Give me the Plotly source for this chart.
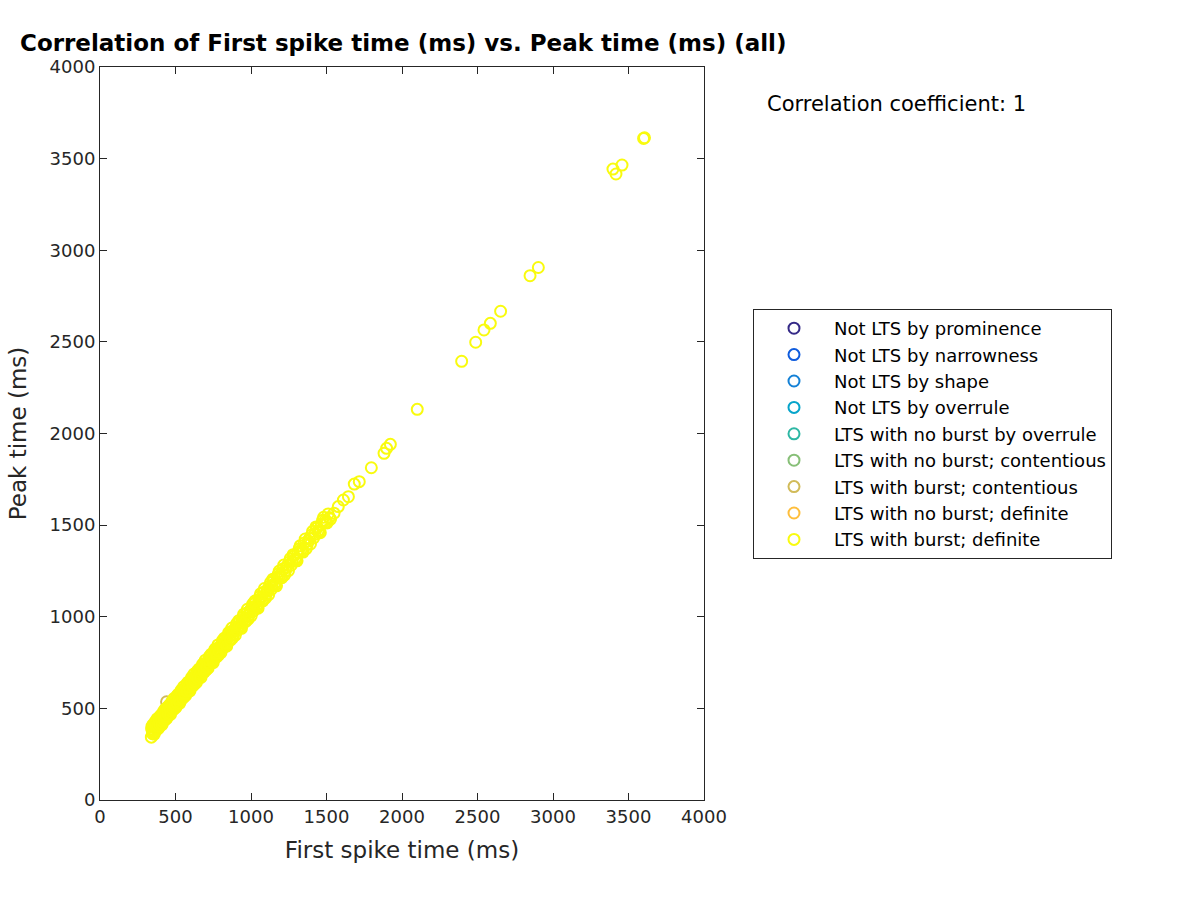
import plotly.graph_objects as go

# Data (ms)
categories = [
    "Not LTS by prominence",
    "Not LTS by narrowness",
    "Not LTS by shape",
    "Not LTS by overrule",
    "LTS with no burst by overrule",
    "LTS with no burst; contentious",
    "LTS with burst; contentious",
    "LTS with no burst; definite",
    "LTS with burst; definite",
]
colors = ["#352A87", "#0F5CDD", "#1481D6", "#06A4CA", "#2EB7A4",
          "#87BF77", "#D1BB59", "#FEBE3C", "#F9FB0E"]

# LTS with burst; contentious
burst_contentious_x = [441]
burst_contentious_y = [536]

# LTS with burst; definite -- dense band (part A)
band_a_x = [
    340, 344, 349, 353, 358, 362, 367, 371, 376, 381, 385, 390, 395, 400, 404, 409,
    414, 419, 424, 429, 434, 439, 444, 449, 455, 460, 465, 470, 476, 481, 487, 492,
    498, 503, 509, 515, 520, 526, 532, 538, 544, 550, 556, 562, 568, 574, 580, 587,
    593, 599, 606, 612, 619, 625, 632, 639, 645, 652, 659, 666, 673, 680, 687, 694,
    702, 709, 716, 724, 731, 739, 746, 754, 762, 769, 777, 785, 793, 801, 810, 818,
    826, 835, 843, 852, 860, 869, 878, 887, 896, 905, 914, 923, 933, 942, 952, 961,
    971, 981, 991, 1001, 1011, 1021, 1031, 1042, 1052, 1063, 1074, 1084, 1095, 1106,
    1117, 1129, 1140, 1151, 1163, 1175, 1187, 1199, 1211, 1223, 1235, 1248, 1260, 1273,
    1286, 1299, 1312, 1325, 1339, 1352, 1366, 1380, 1394, 1408, 1422, 1437, 1451, 1466,
    1481, 1496, 1511, 1527,
]
band_a_y = [
    343, 402, 377, 400, 370, 400, 429, 391, 426, 387, 418, 393, 453, 428, 451, 421,
    452, 481, 444, 479, 440, 472, 447, 507, 483, 507, 477, 508, 538, 501, 537, 498,
    531, 506, 567, 543, 567, 538, 570, 600, 564, 600, 562, 595, 571, 632, 608, 634,
    605, 637, 668, 632, 669, 631, 665, 642, 703, 680, 706, 678, 711, 742, 707, 744,
    708, 742, 719, 782, 759, 786, 758, 792, 824, 789, 827, 791, 826, 804, 868, 846,
    873, 847, 881, 914, 880, 919, 884, 920, 899, 963, 942, 970, 945, 980, 1014, 981,
    1021, 987, 1024, 1004, 1069, 1049, 1078, 1054, 1090, 1125, 1094, 1134, 1101, 1139,
    1120, 1187, 1168, 1198, 1175, 1213, 1249, 1219, 1261, 1229, 1268, 1251, 1318, 1301,
    1333, 1311, 1350, 1387, 1359, 1402, 1372, 1413, 1397, 1466, 1450, 1484, 1463, 1504,
    1543, 1516, 1561, 1533,
]
# dense band (part B)
band_b_x = [
    342, 347, 351, 356, 360, 365, 369, 374, 378, 383, 388, 392, 397, 402, 407, 411,
    416, 421, 426, 431, 436, 441, 447, 452, 457, 462, 467, 473, 478, 484, 489, 495,
    500, 506, 512, 517, 523, 529, 535, 541, 547, 553, 559, 565, 571, 577, 583, 590,
    596, 602, 609, 615, 622, 628, 635, 642, 649, 655, 662, 669, 676, 683, 690, 698,
    705, 712, 720, 727, 735, 742, 750, 758, 765, 773, 781, 789, 797, 805, 814, 822,
    830, 839, 847, 856, 864, 873, 882, 891, 900, 909, 918, 928, 937, 947, 956, 966,
    976, 986, 996, 1006, 1016, 1026, 1036, 1047, 1057, 1068, 1079, 1089, 1100, 1111,
    1123, 1134, 1145, 1157, 1169, 1181, 1193, 1205, 1217, 1229, 1241, 1254, 1266, 1279,
    1292, 1305, 1318, 1332, 1345, 1359, 1373, 1387, 1401, 1415, 1430, 1444, 1459, 1474,
    1489, 1504, 1519,
]
band_b_y = [
    387, 362, 411, 381, 360, 417, 404, 382, 443, 405, 428, 437, 412, 462, 432, 411,
    468, 456, 434, 496, 458, 481, 492, 467, 517, 487, 467, 525, 513, 492, 554, 517,
    540, 551, 527, 577, 548, 529, 587, 576, 555, 618, 581, 605, 616, 592, 643, 615,
    596, 654, 644, 623, 687, 650, 675, 687, 664, 715, 687, 669, 728, 718, 698, 763,
    727, 752, 765, 742, 795, 767, 750, 810, 800, 781, 846, 811, 837, 850, 829, 882,
    855, 839, 899, 891, 872, 938, 904, 931, 945, 924, 978, 953, 937, 999, 991, 974,
    1041, 1008, 1036, 1051, 1031, 1086, 1061, 1047, 1109, 1103, 1087, 1154, 1122, 1151,
    1168, 1149, 1205, 1182, 1169, 1233, 1228, 1213, 1282, 1251, 1281, 1299, 1281, 1339,
    1317, 1305, 1370, 1367, 1353, 1424, 1395, 1427, 1446, 1430, 1490, 1469, 1459, 1526,
    1524, 1512, 1541,
]
# sparse upper part
sparse_x = [1550, 1578, 1612, 1645, 1684, 1717, 1797, 1881, 1898, 1923, 2101, 2395,
            2488, 2543, 2585, 2653, 2848, 2903, 3397, 3417, 3457, 3600, 3606]
sparse_y = [1565, 1601, 1637, 1655, 1724, 1737, 1813, 1892, 1919, 1941, 2132, 2394,
            2498, 2565, 2601, 2667, 2861, 2906, 3443, 3416, 3465, 3610, 3614]

burst_definite_x = band_a_x + band_b_x + sparse_x
burst_definite_y = band_a_y + band_b_y + sparse_y

series_x = {6: burst_contentious_x, 8: burst_definite_x}
series_y = {6: burst_contentious_y, 8: burst_definite_y}

x_ticks = [0, 500, 1000, 1500, 2000, 2500, 3000, 3500, 4000]
y_ticks = [0, 500, 1000, 1500, 2000, 2500, 3000, 3500, 4000]

FONT = "DejaVu Sans"

fig = go.Figure()
for i, (name, col) in enumerate(zip(categories, colors)):
    fig.add_trace(go.Scatter(
        x=series_x.get(i, [None]), y=series_y.get(i, [None]),
        mode="markers", name=name, legendgroup=str(i),
        marker=dict(symbol="circle-open", size=11, color=col, line=dict(width=2, color=col)),
    ))

axis_common = dict(
    range=[0, 4000], showgrid=False, zeroline=False,
    showline=True, linecolor="#262626", linewidth=1, mirror="ticks",
    ticks="inside", ticklen=7, tickcolor="#262626",
    tickfont=dict(family=FONT, size=18, color="#262626"),
)
fig.update_xaxes(**axis_common, tickvals=x_ticks,
                 title=dict(text="First spike time (ms)", font=dict(family=FONT, size=23, color="#262626"), standoff=16))
fig.update_yaxes(**axis_common, tickvals=y_ticks,
                 title=dict(text="Peak time (ms)", font=dict(family=FONT, size=23, color="#262626"), standoff=16))

fig.update_layout(
    width=1200, height=900,
    margin=dict(l=100, r=496, t=67, b=100),
    paper_bgcolor="white", plot_bgcolor="white",
    title=dict(text="<b>Correlation of First spike time (ms) vs. Peak time (ms) (all)</b>",
               x=20/1200, xanchor="left", y=1-43/900, yanchor="middle",
               font=dict(family=FONT, size=23, color="black")),
    legend=dict(x=(753-100)/604, y=(800-309)/733, xanchor="left", yanchor="top",
                bordercolor="#262626", borderwidth=1, bgcolor="white",
                font=dict(family=FONT, size=18, color="black"),
                tracegroupgap=0, traceorder="grouped", itemwidth=70),
    annotations=[dict(text="Correlation coefficient: 1", xref="paper", yref="paper",
                      x=(765-100)/604, y=(800-104)/733, xanchor="left", yanchor="middle",
                      showarrow=False, font=dict(family=FONT, size=21, color="black"))],
    showlegend=True,
)

fig.write_html("out.html")
